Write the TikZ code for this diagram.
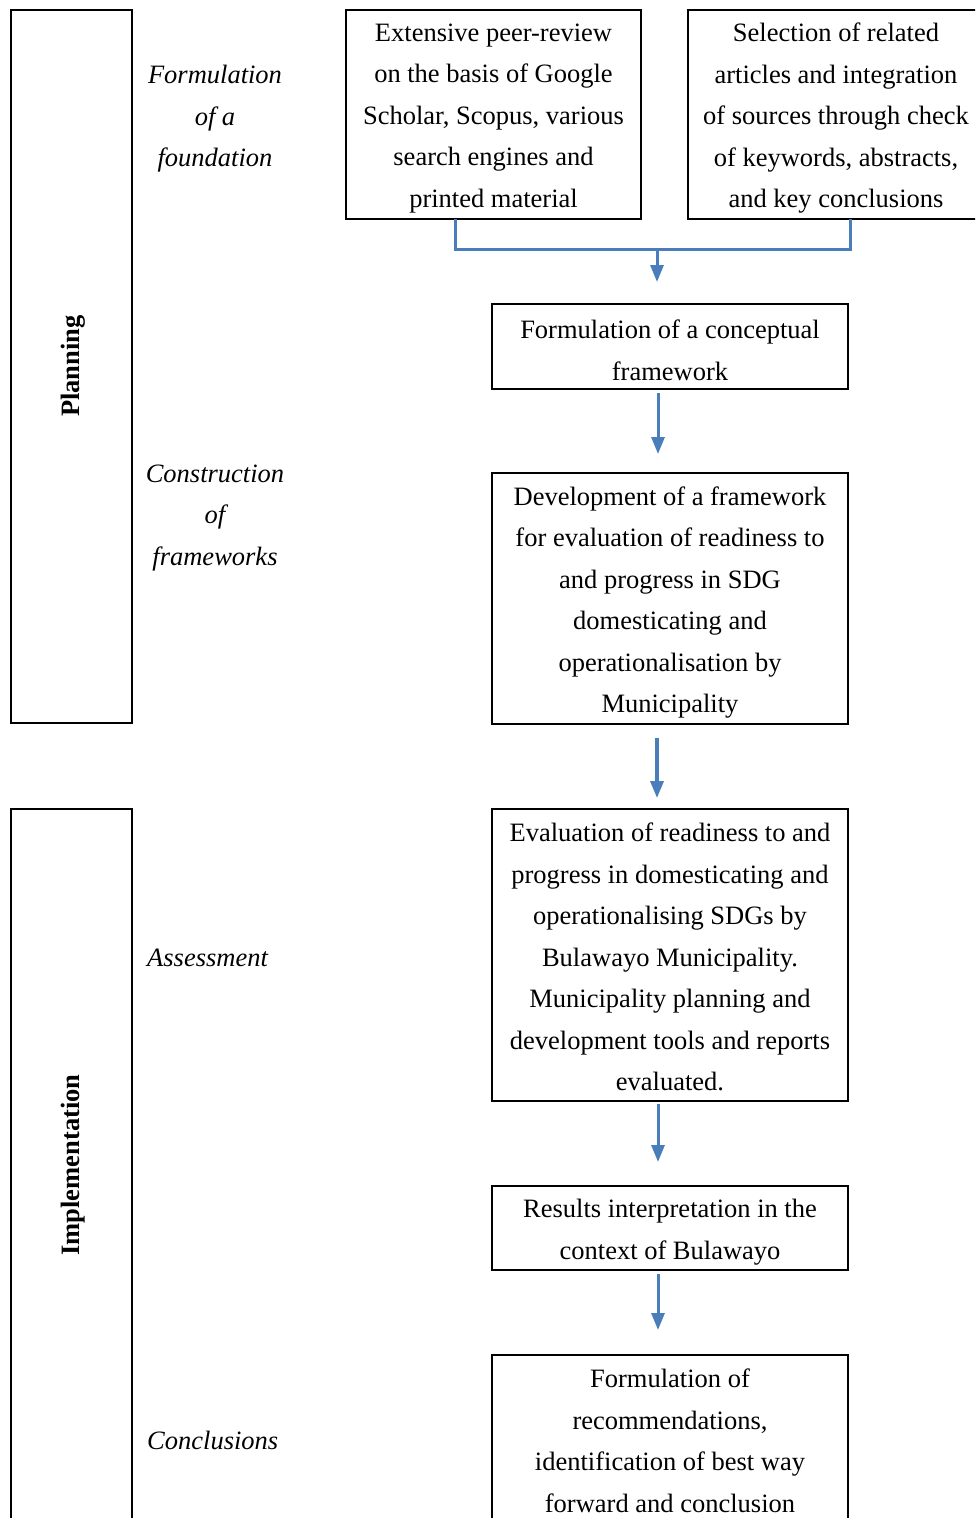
\documentclass[tikz,border=0pt]{standalone}
\usepackage{fontspec}
\setmainfont{Liberation Serif}
\usetikzlibrary{arrows.meta}
\begin{document}
\begin{tikzpicture}[x=1pt,y=-1pt,
  txt/.style={font=\fontsize{26.5}{41.5}\selectfont, align=center, inner sep=0pt, yshift=-4pt},
  stepbox/.style={draw=black, line width=2pt, minimum width=356pt, inner sep=0pt},
  frame/.style={draw=black, line width=2pt, minimum width=121pt, inner sep=0pt},
  phase/.style={font=\fontsize{26.5}{41.5}\selectfont\itshape, align=center, inner sep=0pt},
  stage/.style={font=\fontsize{26.5}{41.5}\selectfont\bfseries, rotate=90, inner sep=0pt},
  link/.style={draw={rgb,255:red,74;green,126;blue,187}, line width=3pt},
  flow/.style={link, -{Triangle[width=13pt,length=17pt]}}
]
\useasboundingbox (0,0) rectangle (975,1518);
\clip (0,0) rectangle (975,1518);
% phase frames
\node[frame, minimum height=713pt] (plan) at (71.5,366.5) {};
\node[frame, minimum height=721pt] (impl) at (71.5,1169.5) {};
\node[stage] (planlbl) at (73,366) {Planning};
\node[stage] (impllbl) at (73,1165) {Implementation};
% phase labels
\node[phase] (p1) at (215,119) {Formulation\\of a\\foundation};
\node[phase] (p2) at (215,518) {Construction\\of\\frameworks};
\node[phase, anchor=west] (p3) at (147,958) {Assessment};
\node[phase, anchor=west] (p4) at (147,1440) {Conclusions};
% boxes
\node[stepbox, minimum width=295pt, minimum height=209pt] (A) at (493.5,114.5) {};
\node[txt] (At) at (A.center)
  {Extensive peer-review\\on the basis of Google\\Scholar, Scopus, various\\search engines and\\printed material};
\node[stepbox, minimum width=296pt, minimum height=209pt] (B) at (836,114.5) {};
\node[txt] (Bt) at (B.center)
  {Selection of related\\articles and integration\\of sources through check\\of keywords, abstracts,\\and key conclusions};
\node[stepbox, minimum height=85pt] (C) at (670,346.5) {};
\node[txt] (Ct) at (C.center)
  {Formulation of a conceptual\\framework};
\node[stepbox, minimum height=251pt] (D) at (670,598.5) {};
\node[txt] (Dt) at (D.center)
  {Development of a framework\\for evaluation of readiness to\\and progress in SDG\\domesticating and\\operationalisation by\\Municipality};
\node[stepbox, minimum height=292pt] (E) at (670,955) {};
\node[txt, yshift=2pt] (Et) at (E.center)
  {Evaluation of readiness to and\\progress in domesticating and\\operationalising SDGs by\\Bulawayo Municipality.\\Municipality planning and\\development tools and reports\\evaluated.};
\node[stepbox, minimum height=84pt] (F) at (670,1228) {};
\node[txt] (Ft) at (F.center)
  {Results interpretation in the\\context of Bulawayo};
\node[stepbox, minimum height=170pt] (G) at (670,1440) {};
\node[txt, yshift=3pt] (Gt) at (G.center)
  {Formulation of\\recommendations,\\identification of best way\\forward and conclusion};
% connectors
\coordinate (aOut) at (455,219);
\coordinate (bOut) at (850,219);
\coordinate (join) at (657,249);
\coordinate (cIn) at (657,282);
\coordinate (cOut) at (658,393);
\coordinate (dIn) at (658,454);
\coordinate (dOut) at (657,738);
\coordinate (eIn) at (657,798);
\coordinate (eOut) at (658,1104);
\coordinate (fIn) at (658,1162);
\coordinate (fOut) at (658,1274);
\coordinate (gIn) at (658,1330);
\draw[link, line join=miter] (aOut) -- (aOut |- join) -- (bOut |- join) -- (bOut);
\draw[flow] (join) -- (cIn);
\draw[flow] (cOut) -- (dIn);
\draw[flow, line width=3.5pt] (dOut) -- (eIn);
\draw[flow] (eOut) -- (fIn);
\draw[flow] (fOut) -- (gIn);
\end{tikzpicture}
\end{document}
